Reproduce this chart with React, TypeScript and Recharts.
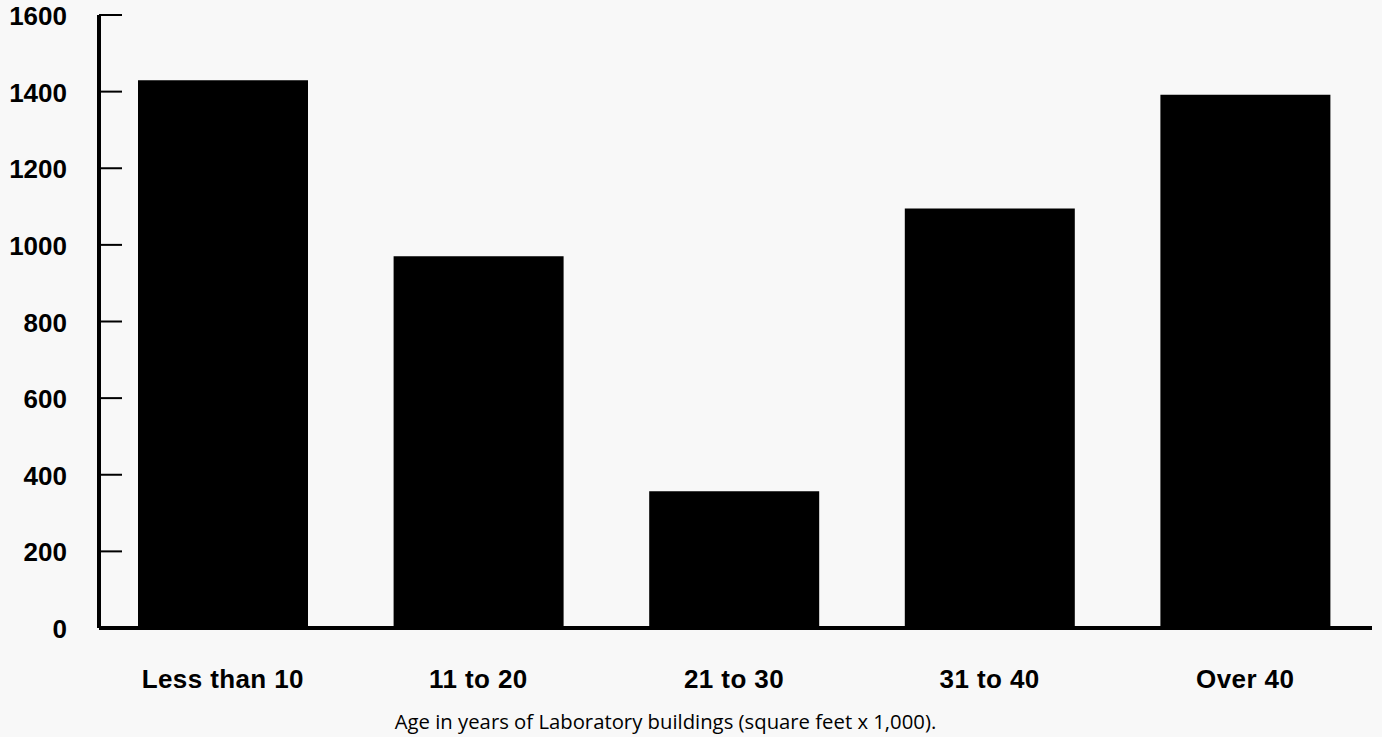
import React from "react";
import { BarChart, Bar, XAxis, YAxis, Label } from "recharts";

const categories = ["Less than 10", "11 to 20", "21 to 30", "31 to 40", "Over 40"];
const areaValues = [1430, 970, 357, 1095, 1392];
const yTicks = [0, 200, 400, 600, 800, 1000, 1200, 1400, 1600];
const caption = "Age in years of Laboratory buildings (square feet x 1,000).";

const data = categories.map((c, i) => ({ category: c, value: areaValues[i] }));

const YTick = (props: any) => {
  const { x, y, payload } = props;
  return (
    <g>
      <line x1={x} y1={y} x2={x + 23} y2={y} stroke="#000" strokeWidth={2} />
      <text
        x={x - 32}
        y={y + 10}
        textAnchor="end"
        fontFamily="'Liberation Sans', Arial, sans-serif"
        fontWeight="bold"
        fontSize={26}
        fill="#000"
      >
        {payload.value}
      </text>
    </g>
  );
};

const XTick = (props: any) => {
  const { x, y, payload } = props;
  return (
    <text
      x={x}
      y={y + 60}
      textAnchor="middle"
      fontFamily="'Liberation Sans', Arial, sans-serif"
      fontWeight="bold"
      fontSize={26}
      letterSpacing={0.4}
      fill="#000"
    >
      {payload.value}
    </text>
  );
};

const CaptionLabel = (props: any) => {
  const vb = props.viewBox || {};
  return (
    <text
      x={vb.x + vb.width * 0.445}
      y={vb.y + 101}
      textAnchor="middle"
      fontFamily="'Open Sans', 'Noto Sans', sans-serif"
      fontSize={20.3}
      fill="#000"
    >
      {caption}
    </text>
  );
};

export default function App() {
  return (
    <div
      style={{
        position: "absolute",
        left: 0,
        top: 0,
        width: 1382,
        height: 737,
        background: "#f8f8f8",
      }}
    >
      <BarChart
        width={1382}
        height={737}
        data={data}
        margin={{ top: 15, right: 10, bottom: 0, left: 0 }}
        barSize={170}
      >
        <XAxis
          dataKey="category"
          height={109}
          padding={{ left: -4, right: -1 }}
          axisLine={{ stroke: "#000", strokeWidth: 4 }}
          tickLine={false}
          tickSize={0}
          tickMargin={0}
          tick={<XTick />}
          interval={0}
        >
          <Label content={<CaptionLabel />} />
        </XAxis>
        <YAxis
          width={99}
          domain={[0, 1600]}
          ticks={yTicks}
          interval={0}
          axisLine={{ stroke: "#000", strokeWidth: 4 }}
          tickLine={false}
          tickSize={0}
          tickMargin={0}
          tick={<YTick />}
        />
        <Bar dataKey="value" fill="#000" isAnimationActive={false} />
      </BarChart>
    </div>
  );
}
